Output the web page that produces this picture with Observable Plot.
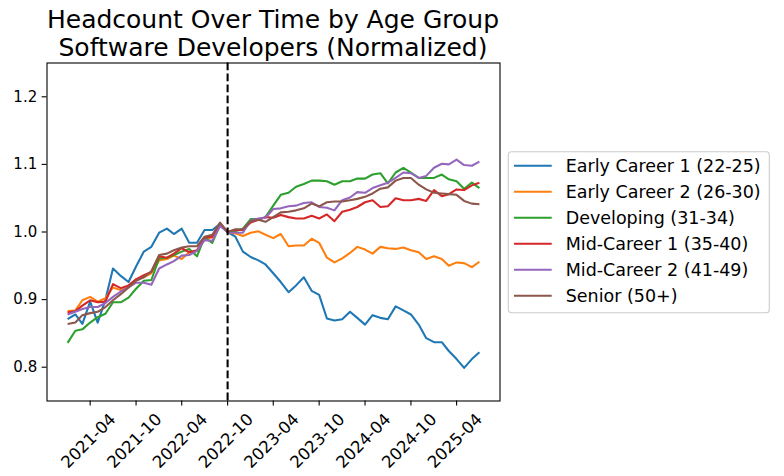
<!DOCTYPE html>
<html><head><meta charset="utf-8">
<script src="https://cdn.jsdelivr.net/npm/d3@7"></script>
<script src="https://cdn.jsdelivr.net/npm/@observablehq/plot@0.6"></script>
<style>html,body{margin:0;padding:0;background:#fff;} svg{display:block;}</style>
</head><body><div id="chart"></div>
<script>
const titleLines = ["Headcount Over Time by Age Group", "Software Developers (Normalized)"];
const seriesNames = ["Early Career 1 (22-25)", "Early Career 2 (26-30)", "Developing (31-34)", "Mid-Career 1 (35-40)", "Mid-Career 2 (41-49)", "Senior (50+)"];
const seriesColors = ["#1f77b4", "#ff7f0e", "#2ca02c", "#d62728", "#9467bd", "#8c564b"];
const firstMonth = "2021-01";
const lastMonth = "2025-07";
const referenceMonth = "2022-10";
const xTickLabels = ["2021-04","2021-10","2022-04","2022-10","2023-04","2023-10","2024-04","2024-10","2025-04"];
const yTicks = [0.8, 0.9, 1.0, 1.1, 1.2];

const earlyCareer1 = [0.871,0.878,0.864,0.897,0.866,0.900,0.946,0.935,0.926,0.949,0.971,0.978,0.999,1.005,0.997,1.005,0.984,0.984,1.003,1.003,1.012,1.000,0.993,0.971,0.963,0.958,0.952,0.939,0.926,0.911,0.921,0.933,0.913,0.907,0.872,0.869,0.871,0.882,0.873,0.863,0.877,0.873,0.871,0.890,0.884,0.878,0.863,0.843,0.837,0.837,0.824,0.812,0.799,0.812,0.822];
const earlyCareer2 = [0.883,0.884,0.899,0.904,0.897,0.902,0.918,0.914,0.919,0.930,0.933,0.939,0.958,0.960,0.965,0.960,0.970,0.972,0.990,0.992,1.010,1.000,0.998,0.994,0.999,1.001,0.996,0.991,0.997,0.979,0.980,0.980,0.990,0.984,0.962,0.955,0.961,0.969,0.978,0.974,0.968,0.978,0.976,0.975,0.977,0.973,0.970,0.960,0.964,0.960,0.950,0.955,0.954,0.948,0.956];
const developing = [0.836,0.854,0.856,0.866,0.874,0.879,0.896,0.896,0.903,0.916,0.928,0.929,0.961,0.962,0.966,0.971,0.975,0.964,0.992,0.984,1.011,1.000,1.001,1.005,1.019,1.019,1.022,1.039,1.055,1.058,1.067,1.071,1.076,1.076,1.075,1.070,1.075,1.075,1.079,1.079,1.085,1.087,1.072,1.088,1.095,1.088,1.080,1.080,1.080,1.085,1.078,1.075,1.064,1.073,1.065];
const midCareer1 = [0.881,0.883,0.891,0.899,0.896,0.897,0.923,0.917,0.921,0.930,0.936,0.941,0.964,0.962,0.968,0.976,0.970,0.973,0.992,0.993,1.012,1.000,1.003,1.003,1.014,1.018,1.022,1.021,1.025,1.022,1.020,1.020,1.024,1.020,1.026,1.016,1.030,1.033,1.037,1.044,1.047,1.037,1.038,1.050,1.047,1.047,1.049,1.046,1.062,1.053,1.056,1.063,1.062,1.069,1.073];
const midCareer2 = [0.878,0.882,0.886,0.889,0.889,0.895,0.904,0.912,0.918,0.925,0.925,0.922,0.946,0.952,0.957,0.965,0.966,0.972,0.988,0.987,1.009,1.000,0.999,0.999,1.017,1.020,1.021,1.034,1.035,1.038,1.039,1.043,1.044,1.037,1.036,1.032,1.047,1.051,1.059,1.058,1.065,1.069,1.073,1.080,1.088,1.087,1.080,1.083,1.095,1.101,1.100,1.107,1.099,1.098,1.104];
const senior = [0.864,0.866,0.877,0.880,0.882,0.889,0.899,0.908,0.918,0.928,0.933,0.942,0.966,0.968,0.973,0.977,0.979,0.979,0.993,0.996,1.014,1.000,1.004,1.004,1.016,1.018,1.015,1.022,1.029,1.030,1.032,1.035,1.042,1.038,1.044,1.045,1.045,1.047,1.049,1.052,1.057,1.064,1.066,1.076,1.080,1.080,1.070,1.063,1.058,1.057,1.056,1.055,1.046,1.042,1.041];

const parse = d3.utcParse("%Y-%m");
const months = d3.utcMonth.range(parse(firstMonth), d3.utcMonth.offset(parse(lastMonth), 1));
const allSeries = [earlyCareer1, earlyCareer2, developing, midCareer1, midCareer2, senior];
const data = allSeries.flatMap((vals, k) => vals.map((v, i) => ({date: months[i], value: v, series: seriesNames[k]})));
const xTicks = xTickLabels.map(parse);

// matplotlib-like 5% margins on x
const t0 = +months[0], t1 = +months[months.length - 1], pad = (t1 - t0) * 0.05;
const xDomain = [new Date(t0 - pad), new Date(t1 + pad)];

const W = 784, H = 476;
const mL = 46.5, mR = 284.5, mT = 62.5, mB = 75.5;

const svg = Plot.plot({
  width: W, height: H,
  marginLeft: mL, marginRight: mR, marginTop: mT, marginBottom: mB,
  style: {fontFamily: "DejaVu Sans", background: "white", color: "black", overflow: "visible"},
  x: {type: "utc", domain: xDomain},
  y: {domain: [0.75, 1.25]},
  color: {domain: seriesNames, range: seriesColors},
  marks: [
    Plot.line(data, {x: "date", y: "value", z: "series", stroke: "series", strokeWidth: 2.08, strokeLinejoin: "round", strokeLinecap: "butt"}),
    Plot.ruleX([parse(referenceMonth)], {stroke: "black", strokeWidth: 2.08, strokeDasharray: "7.7,3.3"}),
    Plot.axisY(yTicks, {tickSize: 4.9, tickPadding: 4.9, fontSize: 15, tickFormat: d3.format(".1f"), label: null, strokeWidth: 1.1}),
    Plot.axisX(xTicks, {tickSize: 4.9, tickFormat: () => "", label: null, strokeWidth: 1.1}),
    Plot.text(xTicks, {x: d => d, frameAnchor: "bottom", text: d3.utcFormat("%Y-%m"), rotate: -45, dy: 40, dx: -1.5, fontSize: 16.5, textAnchor: "middle", lineAnchor: "middle", fill: "black"}),
    Plot.frame({stroke: "black", strokeWidth: 1.1})
  ]
});

const s = d3.select(svg);
const cx = (mL + (W - mR)) / 2;
s.append("text").attr("x", cx).attr("y", 28).attr("text-anchor", "middle")
  .attr("font-size", 25).attr("fill", "black").text(titleLines[0]);
s.append("text").attr("x", cx).attr("y", 56).attr("text-anchor", "middle")
  .attr("font-size", 25).attr("fill", "black").text(titleLines[1]);

const lg = s.append("g").attr("text-anchor", "start");
lg.append("rect").attr("x", 508.3).attr("y", 151.7).attr("width", 261).attr("height", 161)
  .attr("rx", 3).attr("fill", "white").attr("fill-opacity", 0.8).attr("stroke", "#cccccc").attr("stroke-width", 1.1);
seriesNames.forEach((name, k) => {
  const yy = 165.7 + k * 26;
  lg.append("line").attr("x1", 514).attr("x2", 551.7).attr("y1", yy).attr("y2", yy)
    .attr("stroke", seriesColors[k]).attr("stroke-width", 2.08);
  lg.append("text").attr("x", 565.7).attr("y", yy).attr("dy", "0.36em").attr("text-anchor", "start")
    .attr("font-size", 17.5).attr("fill", "black").text(name);
});

document.getElementById("chart").appendChild(svg);
</script>
</body></html>
